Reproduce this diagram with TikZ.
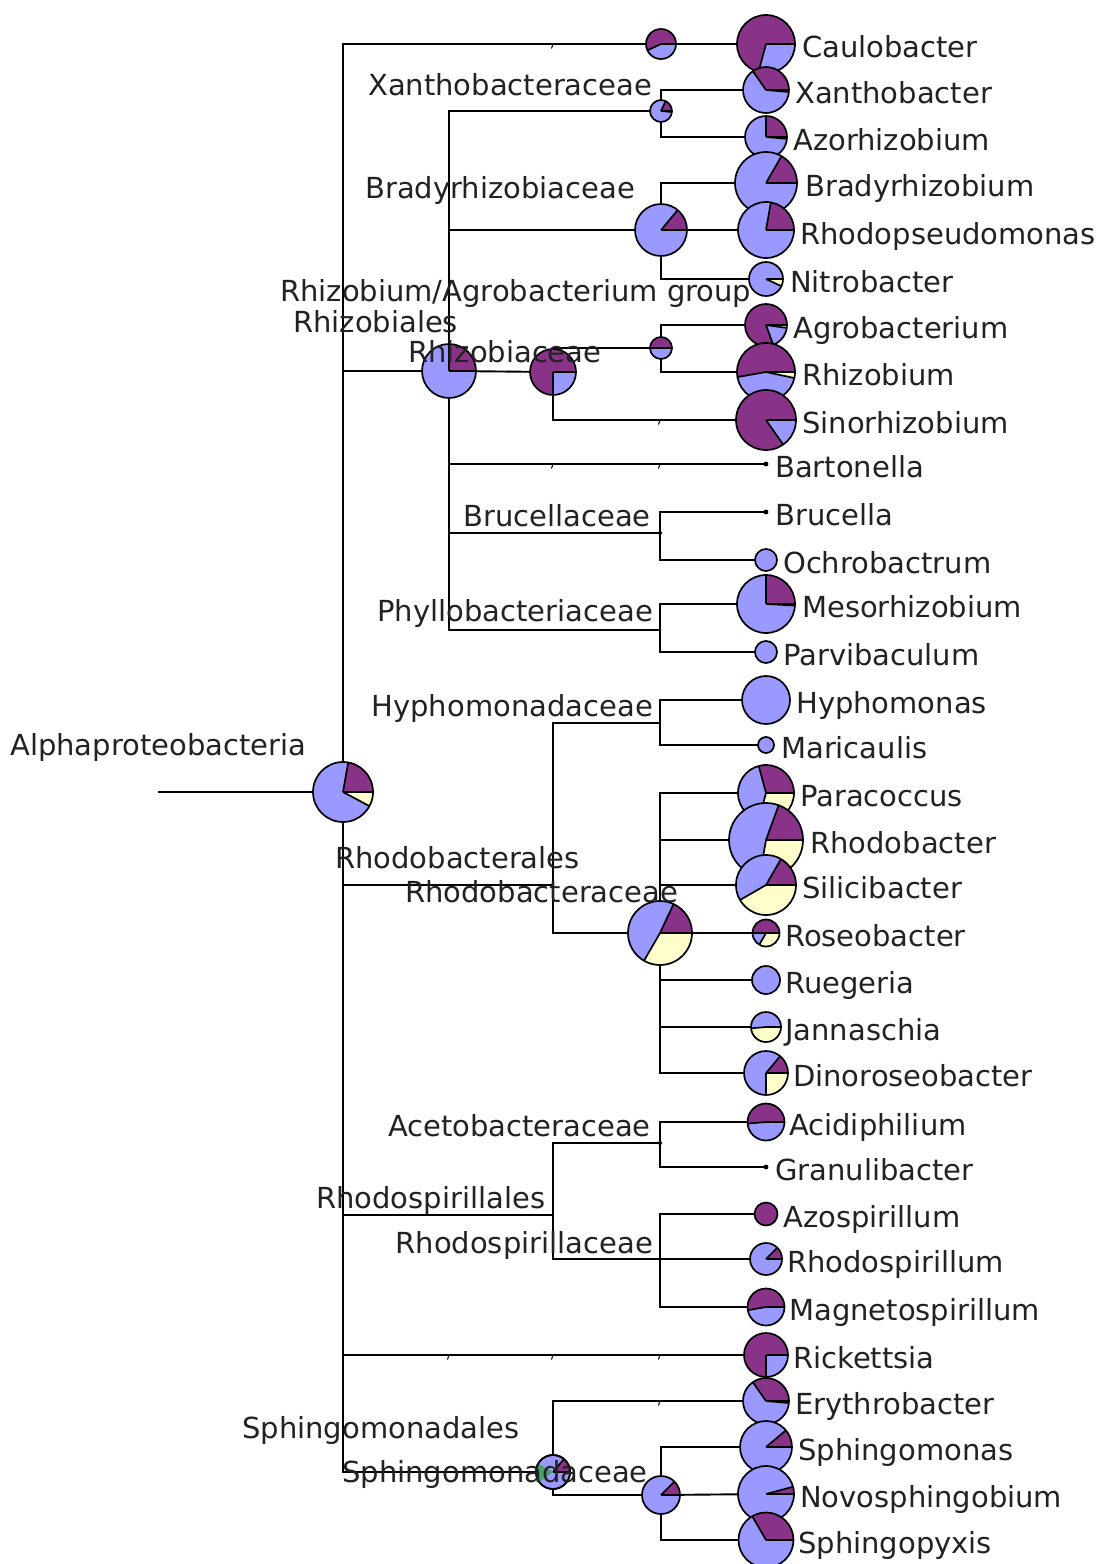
\documentclass[tikz,border=0pt]{standalone}
\usepackage{fontspec}
\setmainfont{DejaVu Sans}
\definecolor{pblue}{RGB}{153,153,255}
\definecolor{ppurple}{RGB}{136,51,136}
\definecolor{pcream}{RGB}{255,255,204}
\definecolor{pgreen}{RGB}{70,160,110}
\definecolor{txt}{RGB}{34,34,34}
\tikzset{
  edge/.style={line width=1.9pt,black},
  pieline/.style={line width=1.7pt,black},
  lab/.style={anchor=base west,inner sep=0pt,text=txt,font=\fontsize{29}{34}\selectfont},
  labr/.style={anchor=base east,inner sep=0pt,text=txt,font=\fontsize{29}{34}\selectfont},
  tick/.style={line width=1pt,black}
}
% center, radius, purple end angle, cream start angle
\newcommand{\pchart}[4]{%
\begin{scope}[shift={(#1)},yscale=-1]
\fill[pblue] (0,0) circle[radius=#2];
\ifdim #3pt>0pt
 \fill[ppurple] (0,0) -- (0:#2) arc[start angle=0,end angle=#3,radius=#2] -- cycle;
\fi
\ifdim #4pt<360pt
 \fill[pcream] (0,0) -- (#4:#2) arc[start angle=#4,end angle=360,radius=#2] -- cycle;
\fi
\ifdim #3pt>0pt \draw[pieline] (0,0) -- (0:#2) (0,0) -- (#3:#2);\fi
\ifdim #4pt<360pt \draw[pieline] (0,0) -- (0:#2) (0,0) -- (#4:#2);\fi
\draw[pieline] (0,0) circle[radius=#2];
\end{scope}}
\newcommand{\ticklet}[1]{\draw[tick] (#1) -- ++(-1.5,4.5);}
\begin{document}
\begin{tikzpicture}[x=1pt,y=-1pt]
\useasboundingbox (0,0) rectangle (1101,1564);
% ---------- node positions ----------
\coordinate (rootstart) at (158,792);
\coordinate (root) at (343,792);
\coordinate (caulobales) at (661,44);
\coordinate (caulobacter) at (766,44);
\coordinate (rhizobiales) at (449,371);
\coordinate (xanthoaceae) at (661,111);
\coordinate (xanthobacter) at (766,90);
\coordinate (azorhizobium) at (766,137);
\coordinate (bradyaceae) at (661,230);
\coordinate (bradyrhizobium) at (766,183);
\coordinate (rhodopseudomonas) at (766,230);
\coordinate (nitrobacter) at (766,279);
\coordinate (rhizobiaceae) at (553,372);
\coordinate (rhizagro) at (661,348);
\coordinate (agrobacterium) at (766,325);
\coordinate (rhizobium) at (766,372);
\coordinate (sinorhizobium) at (766,420);
\coordinate (bartonella) at (766,464);
\coordinate (brucellaceae) at (660,533);
\coordinate (brucella) at (766,512);
\coordinate (ochrobactrum) at (766,560);
\coordinate (phyllo) at (660,630);
\coordinate (mesorhizobium) at (766,604);
\coordinate (parvibaculum) at (766,652);
\coordinate (rhodobacterales) at (553,885);
\coordinate (hyphoaceae) at (660,723);
\coordinate (hyphomonas) at (766,700);
\coordinate (maricaulis) at (766,745);
\coordinate (rhodobacteraceae) at (660,933);
\coordinate (paracoccus) at (766,793);
\coordinate (rhodobacter) at (766,840);
\coordinate (silicibacter) at (766,885);
\coordinate (roseobacter) at (766,933);
\coordinate (ruegeria) at (766,980);
\coordinate (jannaschia) at (766,1027);
\coordinate (dinoroseobacter) at (766,1073);
\coordinate (rhodospirillales) at (553,1215);
\coordinate (acetoaceae) at (660,1143);
\coordinate (acidiphilium) at (766,1122);
\coordinate (granulibacter) at (766,1167);
\coordinate (rhodospirillaceae) at (660,1259);
\coordinate (azospirillum) at (766,1214);
\coordinate (rhodospirillum) at (766,1259);
\coordinate (magnetospirillum) at (766,1307);
\coordinate (rickettsia) at (766,1355);
\coordinate (sphingales) at (553,1472);
\coordinate (erythrobacter) at (766,1401);
\coordinate (sphingaceae) at (661,1495);
\coordinate (sphingomonas) at (766,1447);
\coordinate (novosphingobium) at (766,1494);
\coordinate (sphingopyxis) at (766,1540);
% ---------- edges ----------
\draw[edge] (rootstart) -- (root);
\draw[edge] (root) |- (caulobales);
\draw[edge] (caulobales) -- (caulobacter);
\draw[edge] (root) |- (rhizobiales);
\draw[edge] (root) |- (rhodobacterales);
\draw[edge] (root) |- (rhodospirillales);
\draw[edge] (root) |- (rickettsia);
\draw[edge] (root) |- (sphingales);
\draw[edge] (rhizobiales) |- (xanthoaceae);
\draw[edge] (rhizobiales) |- (bradyaceae);
\draw[edge] (rhizobiales) -- (rhizobiaceae);
\draw[edge] (rhizobiales) |- (bartonella);
\draw[edge] (rhizobiales) |- (brucellaceae);
\draw[edge] (rhizobiales) |- (phyllo);
\draw[edge] (xanthoaceae) |- (xanthobacter);
\draw[edge] (xanthoaceae) |- (azorhizobium);
\draw[edge] (bradyaceae) |- (bradyrhizobium);
\draw[edge] (bradyaceae) -- (rhodopseudomonas);
\draw[edge] (bradyaceae) |- (nitrobacter);
\draw[edge] (rhizobiaceae) |- (rhizagro);
\draw[edge] (rhizobiaceae) |- (sinorhizobium);
\draw[edge] (rhizagro) |- (agrobacterium);
\draw[edge] (rhizagro) |- (rhizobium);
\draw[edge] (brucellaceae) |- (brucella);
\draw[edge] (brucellaceae) |- (ochrobactrum);
\draw[edge] (phyllo) |- (mesorhizobium);
\draw[edge] (phyllo) |- (parvibaculum);
\draw[edge] (rhodobacterales) |- (hyphoaceae);
\draw[edge] (rhodobacterales) |- (rhodobacteraceae);
\draw[edge] (hyphoaceae) |- (hyphomonas);
\draw[edge] (hyphoaceae) |- (maricaulis);
\draw[edge] (rhodobacteraceae) |- (paracoccus);
\draw[edge] (rhodobacteraceae) |- (rhodobacter);
\draw[edge] (rhodobacteraceae) |- (silicibacter);
\draw[edge] (rhodobacteraceae) -- (roseobacter);
\draw[edge] (rhodobacteraceae) |- (ruegeria);
\draw[edge] (rhodobacteraceae) |- (jannaschia);
\draw[edge] (rhodobacteraceae) |- (dinoroseobacter);
\draw[edge] (rhodospirillales) |- (acetoaceae);
\draw[edge] (rhodospirillales) |- (rhodospirillaceae);
\draw[edge] (acetoaceae) |- (acidiphilium);
\draw[edge] (acetoaceae) |- (granulibacter);
\draw[edge] (rhodospirillaceae) |- (azospirillum);
\draw[edge] (rhodospirillaceae) -- (rhodospirillum);
\draw[edge] (rhodospirillaceae) |- (magnetospirillum);
\draw[edge] (sphingales) |- (erythrobacter);
\draw[edge] (sphingales) |- (sphingaceae);
\draw[edge] (sphingaceae) |- (sphingomonas);
\draw[edge] (sphingaceae) -- (novosphingobium);
\draw[edge] (sphingaceae) |- (sphingopyxis);
% ---------- collapsed-node ticks ----------
\ticklet{553,44}
\ticklet{660,420}
\ticklet{553,464}
\ticklet{660,464}
\ticklet{449,1355}
\ticklet{553,1355}
\ticklet{660,1355}
\ticklet{660,1401}
\fill (brucellaceae) circle[radius=2];
\fill (acetoaceae) circle[radius=2];
\fill (phyllo) circle[radius=1.4];
\fill (hyphoaceae) circle[radius=1.4];
\fill (rhodospirillaceae) circle[radius=1.4];
% ---------- pies: internal ----------
\pchart{root}{30}{80}{332}
\pchart{caulobales}{15}{205}{360}
\pchart{xanthoaceae}{11}{65}{355}
\pchart{bradyaceae}{26}{50}{360}
\pchart{rhizobiales}{27}{90}{360}
\pchart{rhizobiaceae}{23}{270}{360}
\pchart{rhizagro}{11}{180}{360}
\pchart{rhodobacteraceae}{32}{65}{240}
\pchart{sphingales}{17}{50}{360}
\begin{scope}[shift={(sphingales)},yscale=-1]
\fill[pgreen] (0,0) -- (150:17) arc[start angle=150,end angle=215,radius=17] -- cycle;
\draw[pieline] (0,0) circle[radius=17];
\end{scope}
\pchart{sphingaceae}{19}{45}{360}
% ---------- pies: leaves ----------
\pchart{caulobacter}{29}{255}{360}
\pchart{xanthobacter}{23}{125}{355}
\pchart{azorhizobium}{21}{90}{355}
\pchart{bradyrhizobium}{31}{60}{360}
\pchart{rhodopseudomonas}{28}{80}{360}
\pchart{nitrobacter}{17}{0}{335}
\pchart{agrobacterium}{21}{290}{352}
\pchart{rhizobium}{29}{190}{348}
\pchart{sinorhizobium}{30}{305}{360}
\fill (bartonella) circle[radius=2.4];
\fill (brucella) circle[radius=2.4];
\pchart{ochrobactrum}{11}{0}{360}
\pchart{mesorhizobium}{29}{90}{357}
\pchart{parvibaculum}{11}{0}{360}
\pchart{hyphomonas}{24}{0}{360}
\pchart{maricaulis}{8}{0}{360}
\pchart{paracoccus}{28}{105}{255}
\pchart{rhodobacter}{37}{70}{260}
\pchart{silicibacter}{30}{60}{210}
\pchart{roseobacter}{13.5}{180}{240}
\pchart{ruegeria}{14}{0}{360}
\pchart{jannaschia}{15}{0}{185}
\pchart{dinoroseobacter}{22}{50}{270}
\pchart{acidiphilium}{18.5}{185}{360}
\fill (granulibacter) circle[radius=2.4];
\fill[ppurple] (azospirillum) circle[radius=11.5];
\draw[pieline] (azospirillum) circle[radius=11.5];
\pchart{rhodospirillum}{16}{45}{360}
\pchart{magnetospirillum}{18.5}{190}{360}
\pchart{rickettsia}{22}{270}{360}
\pchart{erythrobacter}{23}{125}{355}
\pchart{sphingomonas}{26}{40}{360}
\pchart{novosphingobium}{28}{15}{360}
\pchart{sphingopyxis}{27.5}{120}{360}
% ---------- labels: internal ----------
\node[lab] (lxanthoaceae) at (368,95) {Xanthobacteraceae};
\node[lab] (lbradyaceae) at (365,198) {Bradyrhizobiaceae};
\node[lab] (lrhizagro) at (280,301) {Rhizobium/Agrobacterium group};
\node[lab] (lrhizobiales) at (293,332) {Rhizobiales};
\node[lab] (lrhizobiaceae) at (408,362) {Rhizobiaceae};
\node[labr] (lbrucellaceae) at (651,526) {Brucellaceae};
\node[labr] (lphyllo) at (653,621) {Phyllobacteriaceae};
\node[labr] (lhyphoaceae) at (653,716) {Hyphomonadaceae};
\node[lab] (lroot) at (10,755) {Alphaproteobacteria};
\node[lab] (lrhodobacterales) at (335,868) {Rhodobacterales};
\node[lab] (lrhodobacteraceae) at (405,902) {Rhodobacteraceae};
\node[labr] (lacetoaceae) at (651,1136) {Acetobacteraceae};
\node[lab] (lrhodospirillales) at (316,1208) {Rhodospirillales};
\node[labr] (lrhodospirillaceae) at (653,1253) {Rhodospirillaceae};
\node[lab] (lsphingales) at (242,1438) {Sphingomonadales};
\node[lab] (lsphingaceae) at (342,1482) {Sphingomonadaceae};
% ---------- labels: leaves ----------
\node[lab] (lcaulobacter) at (802,57) {Caulobacter};
\node[lab] (lxanthobacter) at (795,103) {Xanthobacter};
\node[lab] (lazorhizobium) at (793,150) {Azorhizobium};
\node[lab] (lbradyrhizobium) at (805,196) {Bradyrhizobium};
\node[lab] (lrhodopseudomonas) at (800,244) {Rhodopseudomonas};
\node[lab] (lnitrobacter) at (790,292) {Nitrobacter};
\node[lab] (lagrobacterium) at (793,338) {Agrobacterium};
\node[lab] (lrhizobium) at (802,385) {Rhizobium};
\node[lab] (lsinorhizobium) at (802,433) {Sinorhizobium};
\node[lab] (lbartonella) at (775,477) {Bartonella};
\node[lab] (lbrucella) at (775,525) {Brucella};
\node[lab] (lochrobactrum) at (783,573) {Ochrobactrum};
\node[lab] (lmesorhizobium) at (802,617) {Mesorhizobium};
\node[lab] (lparvibaculum) at (783,665) {Parvibaculum};
\node[lab] (lhyphomonas) at (796,713) {Hyphomonas};
\node[lab] (lmaricaulis) at (781,758) {Maricaulis};
\node[lab] (lparacoccus) at (800,806) {Paracoccus};
\node[lab] (lrhodobacter) at (810,853) {Rhodobacter};
\node[lab] (lsilicibacter) at (802,898) {Silicibacter};
\node[lab] (lroseobacter) at (785,946) {Roseobacter};
\node[lab] (lruegeria) at (785,993) {Ruegeria};
\node[lab] (ljannaschia) at (785,1040) {Jannaschia};
\node[lab] (ldinoroseobacter) at (793,1086) {Dinoroseobacter};
\node[lab] (lacidiphilium) at (789,1135) {Acidiphilium};
\node[lab] (lgranulibacter) at (775,1180) {Granulibacter};
\node[lab] (lazospirillum) at (783,1227) {Azospirillum};
\node[lab] (lrhodospirillum) at (787,1272) {Rhodospirillum};
\node[lab] (lmagnetospirillum) at (789,1320) {Magnetospirillum};
\node[lab] (lrickettsia) at (793,1368) {Rickettsia};
\node[lab] (lerythrobacter) at (795,1414) {Erythrobacter};
\node[lab] (lsphingomonas) at (798,1460) {Sphingomonas};
\node[lab] (lnovosphingobium) at (800,1507) {Novosphingobium};
\node[lab] (lsphingopyxis) at (798,1553) {Sphingopyxis};
\end{tikzpicture}
\end{document}
